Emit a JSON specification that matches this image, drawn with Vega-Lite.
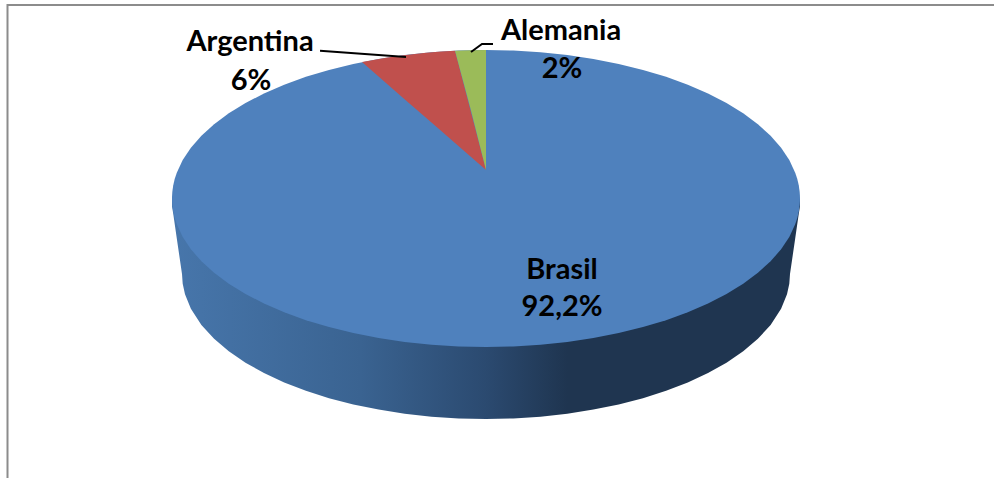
{
"$schema":"https://vega.github.io/schema/vega-lite/v6.json",
"width":994,"height":478,"padding":0,"autosize":{"type":"none"},
"background":"white",
"view":{"stroke":null},
"datasets":{
"frame":[{"x":-478.5,"y":-280,"o":1},{"x":-478.5,"y":193.5,"o":2},{"x":508,"y":193.5,"o":3}],
"wall":[
{"x":-314,"y":0,"y2":-8},{"x":-312.8,"y":0,"y2":-15},{"x":-309.2,"y":0,"y2":-40},{"x":-304,"y":0,"y2":-75.5},{"x":-303.3,"y":0,"y2":-85.3},{"x":-301,"y":0,"y2":-95.8},{"x":-295.1,"y":0,"y2":-110.3},{"x":-284.6,"y":0,"y2":-126.5},{"x":-271.9,"y":0,"y2":-140.3},{"x":-257.2,"y":0,"y2":-152.8},{"x":-240.5,"y":0,"y2":-164.2},{"x":-222,"y":0,"y2":-174.6},{"x":-201.8,"y":0,"y2":-183.9},{"x":-180.1,"y":0,"y2":-192.3},{"x":-157,"y":0,"y2":-199.7},{"x":-132.7,"y":0,"y2":-206},{"x":-107.4,"y":0,"y2":-211.1},{"x":-81.3,"y":0,"y2":-215.2},{"x":-54.5,"y":0,"y2":-218.2},{"x":-27.4,"y":0,"y2":-219.9},{"x":0,"y":0,"y2":-220.5},
{"x":27.4,"y":0,"y2":-219.9},{"x":54.5,"y":0,"y2":-218.2},{"x":81.3,"y":0,"y2":-215.2},{"x":107.4,"y":0,"y2":-211.1},{"x":132.7,"y":0,"y2":-206},{"x":157,"y":0,"y2":-199.7},{"x":180.1,"y":0,"y2":-192.3},{"x":201.8,"y":0,"y2":-183.9},{"x":222,"y":0,"y2":-174.6},{"x":240.5,"y":0,"y2":-164.2},{"x":257.2,"y":0,"y2":-152.8},{"x":271.9,"y":0,"y2":-140.3},{"x":284.6,"y":0,"y2":-126.5},{"x":295.1,"y":0,"y2":-110.3},{"x":301,"y":0,"y2":-95.8},{"x":303.3,"y":0,"y2":-85.3},{"x":304,"y":0,"y2":-75.5},{"x":309.2,"y":0,"y2":-40},{"x":312.8,"y":0,"y2":-15},{"x":314,"y":0,"y2":-8}
],
"brasil":[
{"x":-314,"y":0,"y2":0},{"x":-313.95,"y":2.6,"y2":-2.6},{"x":-313.7,"y":6.5,"y2":-6.5},{"x":-312.8,"y":12.9,"y2":-12.9},{"x":-311.3,"y":19.4,"y2":-19.4},{"x":-309.2,"y":25.8,"y2":-25.8},{"x":-303.3,"y":38.4,"y2":-38.4},{"x":-295.1,"y":50.8,"y2":-50.8},{"x":-284.6,"y":62.8,"y2":-62.8},{"x":-271.9,"y":74.3,"y2":-74.3},{"x":-257.2,"y":85.2,"y2":-85.2},{"x":-240.5,"y":95.5,"y2":-95.5},{"x":-222,"y":105,"y2":-105},{"x":-201.8,"y":113.8,"y2":-113.8},{"x":-180.1,"y":121.7,"y2":-121.7},{"x":-157,"y":128.6,"y2":-128.6},{"x":-132.7,"y":134.6,"y2":-134.6},{"x":-107.4,"y":139.5,"y2":-139.5},{"x":-81.3,"y":143.4,"y2":-143.4},{"x":-54.5,"y":146.2,"y2":-146.2},{"x":-27.4,"y":147.9,"y2":-147.9},{"x":0,"y":148.5,"y2":-148.5},
{"x":27.4,"y":147.9,"y2":-147.9},{"x":54.5,"y":146.2,"y2":-146.2},{"x":81.3,"y":143.4,"y2":-143.4},{"x":107.4,"y":139.5,"y2":-139.5},{"x":132.7,"y":134.6,"y2":-134.6},{"x":157,"y":128.6,"y2":-128.6},{"x":180.1,"y":121.7,"y2":-121.7},{"x":201.8,"y":113.8,"y2":-113.8},{"x":222,"y":105,"y2":-105},{"x":240.5,"y":95.5,"y2":-95.5},{"x":257.2,"y":85.2,"y2":-85.2},{"x":271.9,"y":74.3,"y2":-74.3},{"x":284.6,"y":62.8,"y2":-62.8},{"x":295.1,"y":50.8,"y2":-50.8},{"x":303.3,"y":38.4,"y2":-38.4},{"x":309.2,"y":25.8,"y2":-25.8},{"x":311.3,"y":19.4,"y2":-19.4},{"x":312.8,"y":12.9,"y2":-12.9},{"x":313.7,"y":6.5,"y2":-6.5},{"x":313.95,"y":2.6,"y2":-2.6},{"x":314,"y":0,"y2":0}
],
"argentina":[
{"x":-124,"y":136.4,"y2":136.4},{"x":-100,"y":140.8,"y2":115.5},{"x":-80,"y":143.6,"y2":98.1},{"x":-60,"y":145.8,"y2":80.7},{"x":-45,"y":147,"y2":67.7},{"x":-31,"y":147.8,"y2":55.5},{"x":0,"y":28.5,"y2":28.5}
],
"alemania":[
{"x":-31,"y":147.8,"y2":147.8},{"x":-15,"y":148.3,"y2":88.1},{"x":0,"y":148.5,"y2":28.5}
],
"leaders":[
{"leader":"Argentina","x":-166,"y":147.8,"o":1},{"leader":"Argentina","x":-80,"y":141.5,"o":2},
{"leader":"Alemania","x":-15,"y":146.5,"o":1},{"leader":"Alemania","x":-4,"y":154.5,"o":2},{"leader":"Alemania","x":7,"y":154.5,"o":3}
],
"labels":[
{"label":"Argentina","x":-236,"y":156.5},{"label":"6%","x":-235,"y":118},
{"label":"Alemania","x":75,"y":167.5},{"label":"2%","x":76,"y":130},
{"label":"Brasil","x":76,"y":-71.5},{"label":"92,2%","x":76,"y":-108.5}
]
},
"encoding":{
"x":{"field":"x","type":"quantitative","scale":{"domain":[-486,508],"nice":false,"zero":false},"axis":null},
"y":{"field":"y","type":"quantitative","scale":{"domain":[-279.5,198.5],"nice":false,"zero":false},"axis":null}
},
"layer":[
{"data":{"name":"frame"},"mark":{"type":"line","stroke":"#8c8c8c","strokeWidth":2},"encoding":{"order":{"field":"o","type":"quantitative"}}},
{"data":{"name":"wall"},"mark":{"type":"area","color":{"gradient":"linear","x1":0,"x2":1,"y1":0,"y2":0,"stops":[{"offset":0,"color":"#4776ab"},{"offset":0.3,"color":"#3a6391"},{"offset":0.5,"color":"#2b4a70"},{"offset":0.63,"color":"#1f3550"},{"offset":1,"color":"#1f3550"}]}},"encoding":{"y2":{"field":"y2"}}},
{"data":{"name":"brasil"},"mark":{"type":"area","color":"#4f81bd"},"encoding":{"y2":{"field":"y2"}}},
{"data":{"name":"argentina"},"mark":{"type":"area","color":"#c0504d"},"encoding":{"y2":{"field":"y2"}}},
{"data":{"name":"alemania"},"mark":{"type":"area","color":"#9bbb59"},"encoding":{"y2":{"field":"y2"}}},
{"data":{"name":"leaders"},"mark":{"type":"line","stroke":"#000000","strokeWidth":2},"encoding":{"detail":{"field":"leader"},"order":{"field":"o","type":"quantitative"}}},
{"data":{"name":"labels"},"mark":{"type":"text","font":"Lato","fontWeight":"bold","fontSize":29,"color":"#000000","align":"center","baseline":"middle"},"encoding":{"text":{"field":"label"}}}
]
}
